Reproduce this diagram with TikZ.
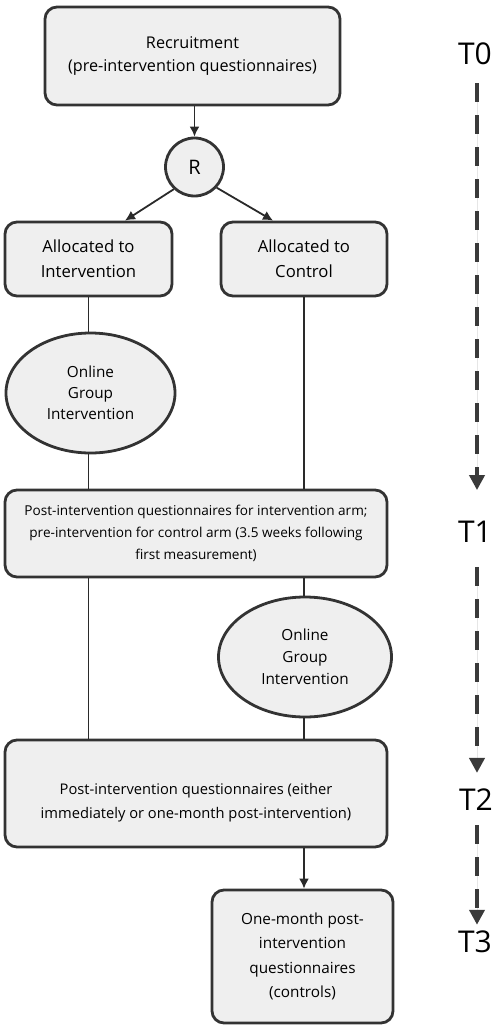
\documentclass[tikz,border=0pt]{standalone}
\usepackage{fontspec}
\setmainfont{Open Sans}
\usetikzlibrary{arrows.meta,positioning,calc,shapes.geometric}
\definecolor{boxfill}{HTML}{EFEFEF}
\definecolor{boxline}{HTML}{333333}
\definecolor{wire}{HTML}{2A2A2A}
\definecolor{tline}{HTML}{3A3A3A}

\begin{document}
\begin{tikzpicture}[
  x=1pt, y=-1pt,
  every node/.append style={text=black},
  stagebox/.style={draw=boxline, line width=2.8pt, rounded corners=12pt, fill=boxfill, align=center, inner sep=0pt},
  oval/.style={ellipse, draw=boxline, line width=2.8pt, fill=boxfill, align=center, inner sep=0pt},
  wirel/.style={draw=wire, line width=1.8pt},
  wirea/.style={wirel, -{Latex[length=10pt,width=10pt]}},
  tlbl/.style={inner sep=0pt, font=\fontsize{30}{32}\selectfont},
  tarrow/.style={draw=tline, fill=tline, line width=4pt, dash pattern=on 19pt off 13pt, -{Triangle[length=15pt,width=15pt]}},
]
\useasboundingbox (0,0) rectangle (497,1027);

% Recruitment and randomisation
\node[stagebox, minimum width=295pt, minimum height=98pt, font=\fontsize{16.2}{23}\selectfont] (recruit) at (192.5,56)
  {Recruitment\\(pre-intervention questionnaires)};
\node[circle, draw=boxline, line width=2.8pt, fill=boxfill, minimum size=58pt, inner sep=0pt, font=\fontsize{20}{22}\selectfont] (rand) at (194.5,167) {R};
\draw[wirea] (recruit.south -| rand.north) -- (rand.north);

% Allocation
\node[stagebox, minimum width=167pt, minimum height=74pt, font=\fontsize{16.7}{25}\selectfont] (allocI) at (88.5,259)
  {Allocated to\\Intervention};
\node[stagebox, minimum width=166pt, minimum height=74pt, font=\fontsize{16.7}{25}\selectfont] (allocC) at (304,259)
  {Allocated to\\Control};
\draw[wirea] (rand.-133) -- ([xshift=36.5pt]allocI.north);
\draw[wirea] (rand.-43) -- ([xshift=-31pt]allocC.north);

% Intervention arm
\node[oval, minimum width=169pt, minimum height=120pt, font=\fontsize{15.3}{21}\selectfont] (groupI) at (90.5,393)
  {Online\\Group\\Intervention};
\draw[wirel] (allocI.south) -- (allocI.south |- groupI.north);

% T1
\node[stagebox, minimum width=382pt, minimum height=87pt, font=\fontsize{13.6}{22}\selectfont] (post1) at (196,533.5)
  {Post-intervention questionnaires for intervention arm;\\
   pre-intervention for control arm (3.5 weeks following\\
   first measurement)};
\draw[wirel] (allocI.south |- groupI.south) -- (allocI.south |- post1.north);
\draw[wirel] (allocC.south) -- (allocC.south |- post1.north);

% Control arm
\node[oval, minimum width=173pt, minimum height=120pt, font=\fontsize{15.3}{22}\selectfont] (groupC) at (305,657)
  {Online\\Group\\Intervention};
\draw[wirel] (allocC.south |- post1.south) -- (allocC.south |- groupC.north);

% T2
\node[stagebox, minimum width=382pt, minimum height=107pt] (post2) at (196,793.5) {};
\node[align=center, inner sep=0pt, font=\fontsize{14.7}{24}\selectfont] (post2txt) at ([yshift=-9pt]post2.center)
  {Post-intervention questionnaires (either\\immediately or one-month post-intervention)};
\draw[wirel] (allocI.south |- post1.south) -- (allocI.south |- post2.north);
\draw[wirel] (allocC.south |- groupC.south) -- (allocC.south |- post2.north);

% T3
\node[stagebox, minimum width=181pt, minimum height=133pt, font=\fontsize{15.3}{24.5}\selectfont] (followup) at (302.5,956.5)
  {One-month post-\\intervention\\questionnaires\\(controls)};
\draw[wirea] (allocC.south |- post2.south) -- (allocC.south |- followup.north);

% Timeline
\node[tlbl] (t0) at (475,54) {T0};
\node[tlbl] (t1) at (475,532) {T1};
\node[tlbl] (t2) at (476,800) {T2};
\node[tlbl] (t3) at (475,942) {T3};
\draw[tarrow, shorten <=18pt, shorten >=31pt] ([xshift=2pt]t0.south) -- ([xshift=2pt]t1.north);
\draw[tarrow, shorten <=24pt, shorten >=16pt] ([xshift=2pt]t1.south) -- ([xshift=1pt]t2.north);
\draw[tarrow, shorten <=14pt, shorten >=6pt] ([xshift=1pt]t2.south) -- ([xshift=2pt]t3.north);

\end{tikzpicture}
\end{document}
